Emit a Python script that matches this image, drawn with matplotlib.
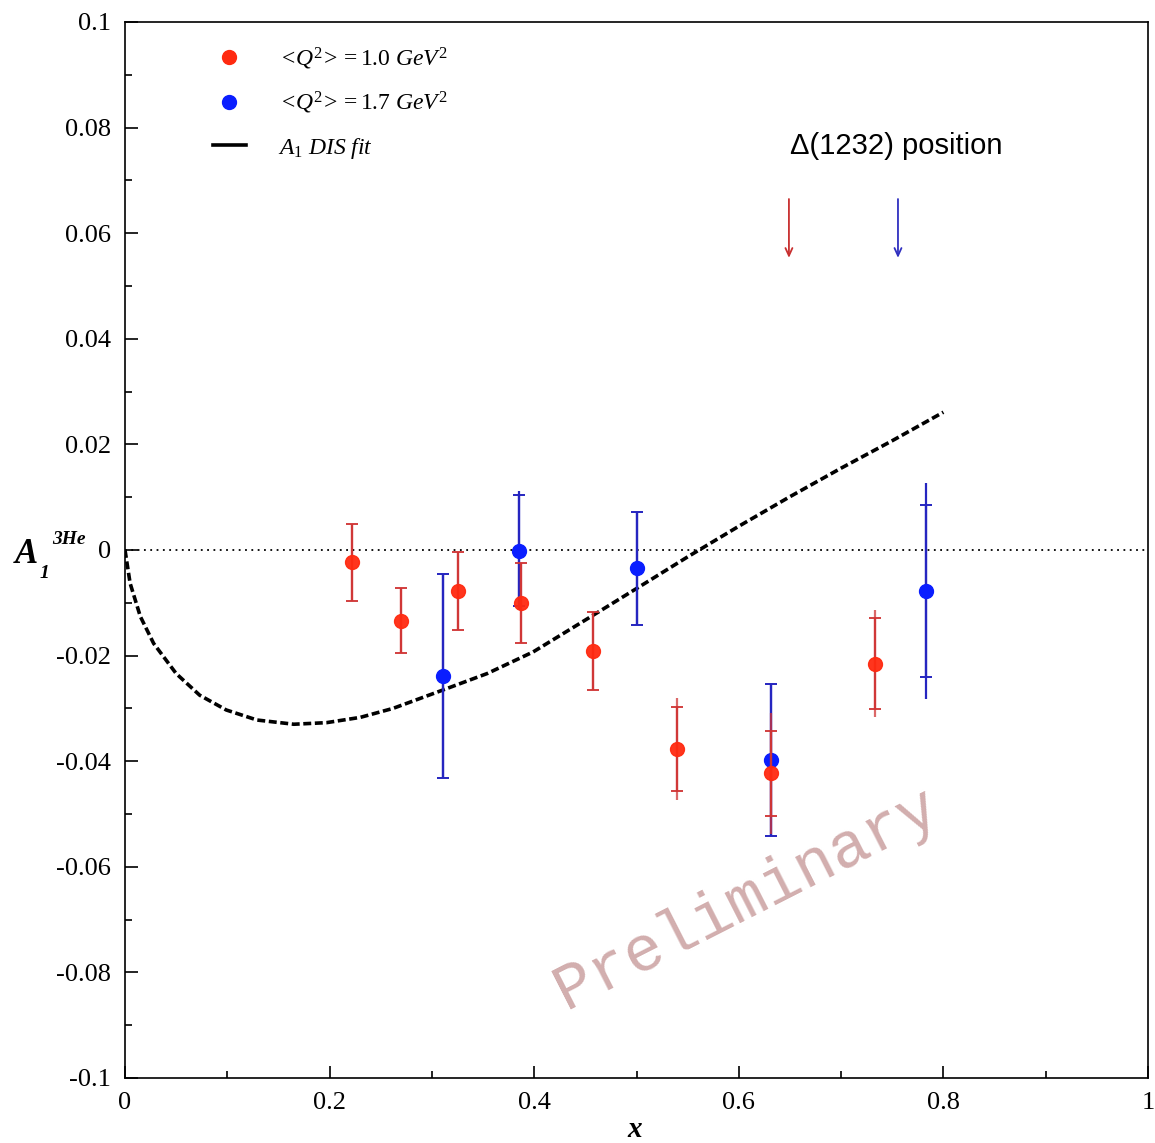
import matplotlib
matplotlib.use("Agg")
import matplotlib.pyplot as plt
from matplotlib.lines import Line2D

# data
x_red = [0.2216, 0.2695, 0.3258, 0.3868, 0.4578, 0.5393, 0.6311, 0.7331]
a1_red = [-0.0023, -0.0134, -0.0077, -0.0100, -0.0191, -0.0377, -0.0423, -0.0215]
stat_red = [0.0073, 0.0062, 0.0074, 0.0076, 0.0074, 0.0080, 0.0081, 0.0087]
tot_red = [0.0073, 0.0062, 0.0074, 0.0076, 0.0074, 0.0097, 0.0115, 0.0101]

x_blue = [0.3106, 0.3856, 0.5002, 0.6311, 0.7827]
a1_blue = [-0.0239, -0.0001, -0.0035, -0.0398, -0.0078]
stat_blue = [0.0193, 0.0105, 0.0107, 0.0144, 0.0163]
tot_blue = [0.0193, 0.0112, 0.0107, 0.0144, 0.0205]

x_fit = [0.0, 0.005, 0.015, 0.028, 0.05, 0.073, 0.099, 0.129, 0.165, 0.197,
         0.230, 0.262, 0.311, 0.354, 0.399, 0.448, 0.50, 0.55, 0.60, 0.65,
         0.70, 0.75, 0.80]
a1_fit = [0.0, -0.0063, -0.0126, -0.0177, -0.0234, -0.0275, -0.0303, -0.0322,
          -0.0330, -0.0327, -0.0317, -0.0300, -0.0265, -0.0234, -0.0193,
          -0.0135, -0.0073, -0.0013, 0.0045, 0.0101, 0.0155, 0.0207, 0.0261]

delta_x = [0.649, 0.7556]

x_ticks = [0, 0.2, 0.4, 0.6, 0.8, 1.0]
x_ticklabels = ["0", "0.2", "0.4", "0.6", "0.8", "1"]
y_ticks = [0.1, 0.08, 0.06, 0.04, 0.02, 0, -0.02, -0.04, -0.06, -0.08, -0.1]
y_ticklabels = ["0.1", "0.08", "0.06", "0.04", "0.02", "0", "-0.02", "-0.04",
                "-0.06", "-0.08", "-0.1"]

RED = "#ff2a10"
RED_BAR = "#d03535"
BLUE = "#0a1eff"
BLUE_BAR = "#2525c0"

plt.rcParams["mathtext.fontset"] = "custom"
plt.rcParams["mathtext.it"] = "Liberation Serif:italic"
plt.rcParams["mathtext.rm"] = "Liberation Serif"

fig = plt.figure(figsize=(11.55, 11.43), dpi=100)
ax = fig.add_axes([125 / 1155, 1 - 1078 / 1143, 1023 / 1155, 1056 / 1143])

ax.axhline(0, color="black", linestyle=(0, (1, 2.5)), lw=1.3, zorder=1)

ax.plot(x_fit, a1_fit, color="black", lw=2.6, dashes=(2.2, 1.0), zorder=2)

# blue set
ax.vlines(x_blue, [y - e for y, e in zip(a1_blue, tot_blue)],
          [y + e for y, e in zip(a1_blue, tot_blue)], color=BLUE_BAR, lw=1.6, zorder=3)
ax.errorbar(x_blue, a1_blue, yerr=stat_blue, fmt="o", color=BLUE, ecolor=BLUE_BAR,
            elinewidth=1.6, capsize=4, capthick=1.4, markersize=10, zorder=4)

# red set
ax.vlines(x_red, [y - e for y, e in zip(a1_red, tot_red)],
          [y + e for y, e in zip(a1_red, tot_red)], color=RED_BAR, lw=1.6,
          alpha=0.75, zorder=5)
ax.errorbar(x_red, a1_red, yerr=stat_red, fmt="o", color=RED, ecolor=RED_BAR,
            elinewidth=1.6, capsize=4, capthick=1.4, markersize=10, zorder=6,
            alpha=0.95)

# delta(1232) arrows
for xd, c in zip(delta_x, ["#c83030", "#3030c0"]):
    ax.annotate("", xy=(xd, 0.0548), xytext=(xd, 0.0670),
                arrowprops=dict(arrowstyle="->,head_length=0.55,head_width=0.25",
                                color=c, lw=1.3))
ax.text(0.7537, 0.0766, "\u0394(1232) position", ha="center", va="center",
        fontsize=21, family="Liberation Sans")

ax.text(0.607, -0.0660, "Preliminary", rotation=27, ha="center", va="center",
        fontsize=46, family="Liberation Mono", color="#d2aeae", zorder=0,
        rotation_mode="anchor")

ax.set_xlim(0, 1)
ax.set_ylim(-0.1, 0.1)
ax.set_xticks(x_ticks)
ax.set_xticklabels(x_ticklabels)
ax.set_yticks(y_ticks)
ax.set_yticklabels(y_ticklabels)
ax.set_xticks([0.1, 0.3, 0.5, 0.7, 0.9], minor=True)
ax.set_yticks([0.09, 0.07, 0.05, 0.03, 0.01, -0.01, -0.03, -0.05, -0.07, -0.09],
              minor=True)
ax.tick_params(which="both", direction="in", top=False, right=False, width=1.2)
ax.tick_params(which="major", length=9, labelsize=19, pad=10)
ax.tick_params(which="minor", length=5)
for lab in ax.get_xticklabels() + ax.get_yticklabels():
    lab.set_family("Liberation Serif")
for sp in ax.spines.values():
    sp.set_linewidth(1.2)

# legend
handles = [
    Line2D([], [], marker="o", color=RED, linestyle="none", markersize=10),
    Line2D([], [], marker="o", color=BLUE, linestyle="none", markersize=10),
    Line2D([], [], color="black", lw=2.6),
]
labels = [r"$<\!Q^2\!> = 1.0\ GeV^2$", r"$<\!Q^2\!> = 1.7\ GeV^2$",
          r"$A_1\ DIS\ fit$"]
ax.legend(handles, labels, loc="upper left", bbox_to_anchor=(0.065, 0.998),
          frameon=False, fontsize=17, handlelength=1.4, handletextpad=1.35,
          labelspacing=0.78)

# axis titles
fig.text(15 / 1155, 1 - 563 / 1143, "A", fontsize=25, family="Liberation Serif",
         style="italic", weight="bold")
fig.text(40 / 1155, 1 - 578 / 1143, "1", fontsize=14, family="Liberation Serif",
         style="italic", weight="bold")
fig.text(52 / 1155, 1 - 544 / 1143, "3He", fontsize=14, family="Liberation Serif",
         style="italic", weight="bold")
fig.text(635 / 1155, 1 - 1137 / 1143, "x", fontsize=21, family="Liberation Serif",
         style="italic", weight="bold", ha="center", va="baseline")

fig.savefig("out.png", dpi=100)
